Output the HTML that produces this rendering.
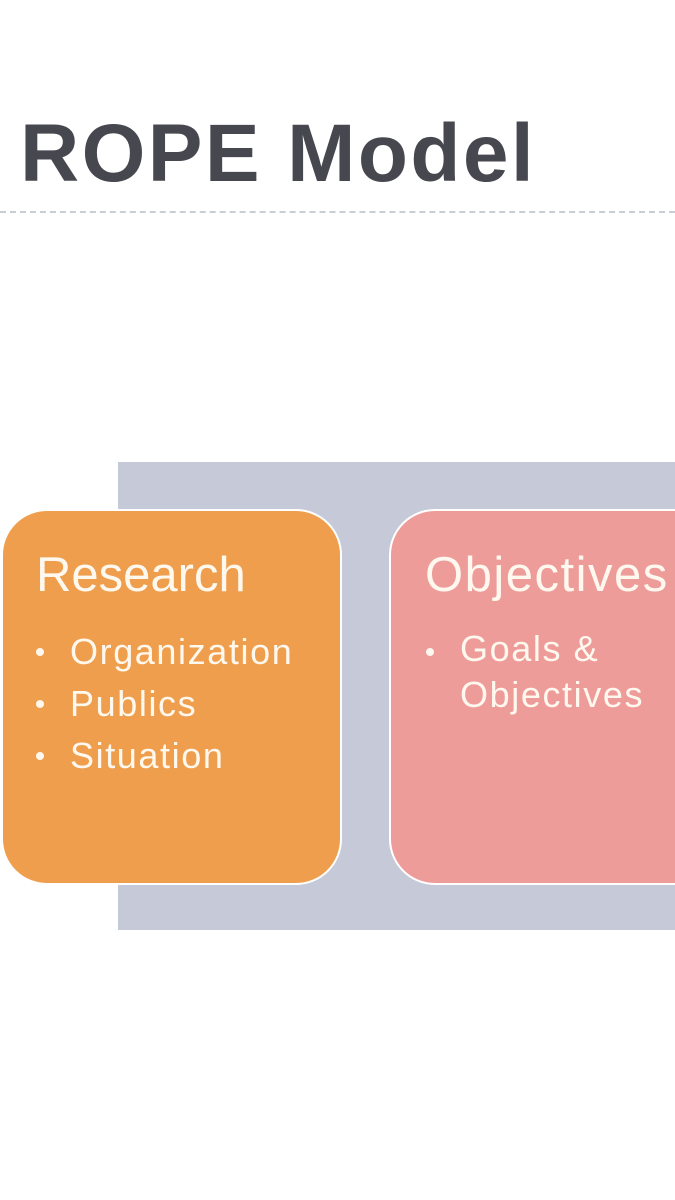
<!DOCTYPE html>
<html><head><meta charset="utf-8"><style>
html,body{margin:0;padding:0;width:675px;height:1200px;background:#fff;overflow:hidden;position:relative;font-family:"Liberation Sans",sans-serif}
.title{position:absolute;left:20px;top:104px;font-size:82px;font-weight:bold;color:#474750;letter-spacing:2.4px;line-height:100px;white-space:nowrap}
.dash{position:absolute;left:0;top:211px;width:675px;border-top:2px dashed #c9cdd6}
.bg{position:absolute;left:118px;top:462px;width:557px;height:468px;background:#c6cad8}
.box{position:absolute;top:509px;height:372px;border:2px solid #fff;border-radius:46px;color:#fff8ee}
.r{left:1px;width:337px;background:#ee9e4c}
.o{left:389px;width:340px;background:#ee9c9a}
.h{position:absolute;top:36px;font-size:49px;line-height:56px;white-space:nowrap}
ul{position:absolute;top:115px;margin:0;padding:0;list-style:none;font-size:36px;line-height:52px;letter-spacing:1.6px;white-space:nowrap}
li{position:relative;padding-left:34px}
li:before{content:"";position:absolute;left:0;top:22px;width:8px;height:8px;border-radius:50%;background:#fff8ee}
</style></head><body>
<div class="title">ROPE Model</div>
<div class="dash"></div>
<div class="bg"></div>
<div class="box r"><div class="h" style="left:33px">Research</div>
<ul style="left:33px"><li>Organization</li><li>Publics</li><li>Situation</li></ul></div>
<div class="box o"><div class="h" style="left:34px;letter-spacing:1.5px">Objectives</div>
<ul style="left:35px;line-height:46px"><li>Goals &amp;<br>Objectives</li></ul></div>
</body></html>
